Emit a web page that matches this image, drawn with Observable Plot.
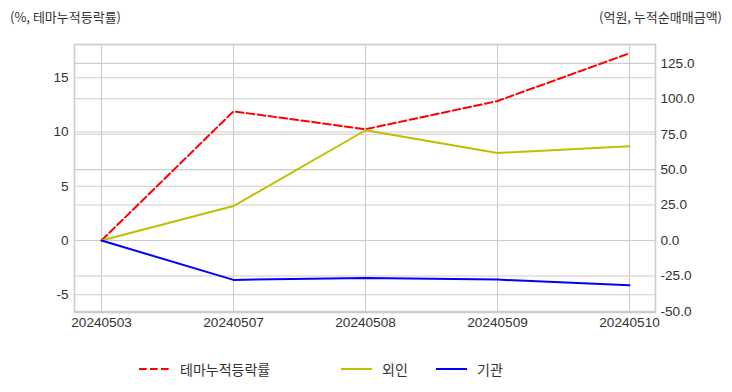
<!DOCTYPE html>
<html><head><meta charset="utf-8">
<script src="https://cdn.jsdelivr.net/npm/d3@7"></script>
<script src="https://cdn.jsdelivr.net/npm/@observablehq/plot@0.6"></script>
<style>
body{margin:0;background:#fff;}
#wrap{position:relative;width:732px;height:392px;font-family:"Liberation Sans","Noto Sans CJK KR",sans-serif;color:#333;}
#chart{position:absolute;left:0;top:0;}
.ttl{position:absolute;top:7px;font-size:13px;white-space:nowrap;font-family:"Noto Sans CJK KR",sans-serif;color:#333;}
.leg{position:absolute;top:359px;height:20px;display:flex;align-items:center;font-size:14px;font-family:"Noto Sans CJK KR",sans-serif;color:#333;white-space:nowrap;}
.leg svg{margin-right:10px;}
</style></head>
<body><div id="wrap"><div id="chart"></div></div>
<script>
const dates = ["20240503","20240507","20240508","20240509","20240510"];
const themeReturn = [0, 11.9, 10.25, 12.85, 17.25];     // left axis (%)
const foreignNet = [0, 24.3, 77.8, 61.8, 66.5];         // right axis (억원)
const institutionNet = [0, -27.8, -26.4, -27.6, -31.6]; // right axis (억원)
const leftTicks = [-5, 0, 5, 10, 15];
const rightTicks = [-50, -25, 0, 25, 50, 75, 100, 125];
const leftDomain = [-6.64, 18.06];
const rightDomain = [-50.8, 138.3];
const seriesNames = ["테마누적등락률", "외인", "기관"];
const seriesColors = ["#ff0000", "#bfbf00", "#0000ff"];
const leftTitle = "(%, 테마누적등락률)";
const rightTitle = "(억원, 누적순매매금액)";

const k = (leftDomain[1] - leftDomain[0]) / (rightDomain[1] - rightDomain[0]);
const toLeft = v => leftDomain[0] + (v - rightDomain[0]) * k;
const fromLeft = v => rightDomain[0] + (v - leftDomain[0]) / k;

const rows = [];
dates.forEach((d, i) => {
  rows.push({date: d, series: seriesNames[0], y: themeReturn[i]});
  rows.push({date: d, series: seriesNames[1], y: toLeft(foreignNet[i])});
  rows.push({date: d, series: seriesNames[2], y: toLeft(institutionNet[i])});
});

const grid = {stroke: "#cccccc", strokeOpacity: 1, strokeWidth: 1.1};
const chart = Plot.plot({
  width: 732, height: 392,
  marginTop: 44, marginBottom: 80, marginLeft: 74, marginRight: 77,
  style: {fontSize: "13.6px", fontFamily: "Liberation Sans, Noto Sans CJK KR, sans-serif", color: "#333", background: "#fff"},
  x: {type: "point", domain: dates, padding: 0.2},
  y: {domain: leftDomain},
  marks: [
    Plot.gridX(dates, grid),
    Plot.gridY(leftTicks, grid),
    Plot.gridY(rightTicks.map(toLeft), grid),
    Plot.frame({stroke: "#cccccc", strokeWidth: 1.6}),
    Plot.axisX(dates, {tickSize: 0, tickPadding: 5, label: null}),
    Plot.axisY(leftTicks, {anchor: "left", tickSize: 0, tickPadding: 6, label: null, tickFormat: d => String(d)}),
    Plot.axisY(rightTicks.map(toLeft), {anchor: "right", tickSize: 0, tickPadding: 5, label: null,
      tickFormat: d => (Math.round(fromLeft(d) * 10) / 10).toFixed(1)}),
    Plot.line(rows.filter(r => r.series === seriesNames[0]), {x: "date", y: "y", stroke: seriesColors[0], strokeWidth: 2, strokeDasharray: "7.7,3.3"}),
    Plot.line(rows.filter(r => r.series === seriesNames[1]), {x: "date", y: "y", stroke: seriesColors[1], strokeWidth: 2}),
    Plot.line(rows.filter(r => r.series === seriesNames[2]), {x: "date", y: "y", stroke: seriesColors[2], strokeWidth: 2})
  ]
});
const wrap = document.getElementById("wrap");
document.getElementById("chart").appendChild(chart);

function addDiv(cls, text, style) {
  const el = document.createElement("div");
  el.className = cls; el.textContent = text;
  Object.assign(el.style, style);
  wrap.appendChild(el);
  return el;
}
addDiv("ttl", leftTitle, {left: "10px"});
addDiv("ttl", rightTitle, {right: "10px"});

const legendX = [139, 341, 436];
seriesNames.forEach((name, i) => {
  const el = document.createElement("div");
  el.className = "leg";
  el.style.left = legendX[i] + "px";
  const dash = i === 0 ? ' stroke-dasharray="7.7,3.3"' : "";
  el.innerHTML = `<svg width="31" height="4"><line x1="0" y1="2" x2="31" y2="2" stroke="${seriesColors[i]}" stroke-width="2"${dash}/></svg><span>${name}</span>`;
  wrap.appendChild(el);
});
</script>
</body></html>
